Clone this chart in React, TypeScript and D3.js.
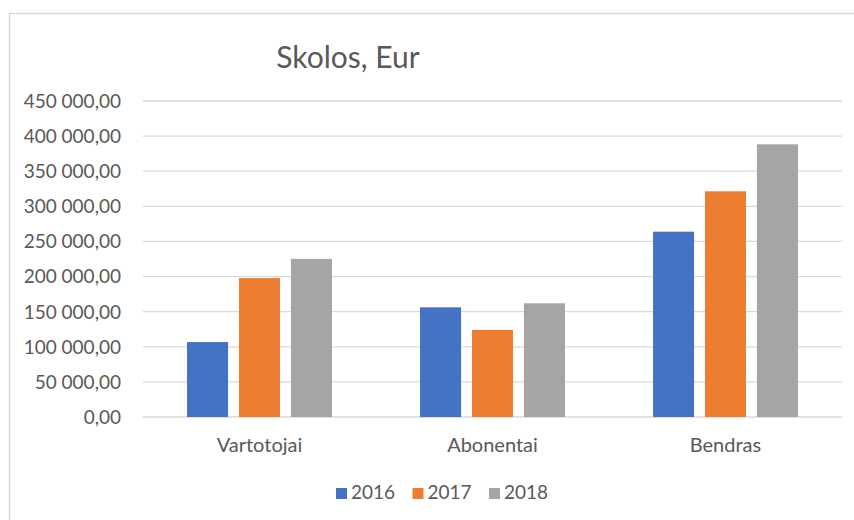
import React, { useEffect } from "react";
import * as d3 from "d3";

const categories = ["Vartotojai", "Abonentai", "Bendras"];
const seriesNames = ["2016", "2017", "2018"];
const values2016 = [106700, 156200, 263900];
const values2017 = [197800, 123900, 321400];
const values2018 = [225200, 161900, 388300];
const yTicks = [0, 50000, 100000, 150000, 200000, 250000, 300000, 350000, 400000, 450000];
const colors = ["#4472C4", "#ED7D31", "#A5A5A5"];
const title = "Skolos, Eur";

const W = 854;
const H = 520;
const FONT = "Lato, 'Open Sans', sans-serif";
const TEXT = "#595959";

const locale = d3.formatLocale({ decimal: ",", thousands: " ", grouping: [3], currency: ["", ""] });
const fmt = locale.format(",.2f");

export default function App() {
  useEffect(() => {
    document.body.style.margin = "0";
  }, []);

  const series = [values2016, values2017, values2018];
  const plotL = 143, plotR = 842, plotT = 101, plotB = 417;

  const y = d3.scaleLinear().domain([0, 450000]).range([plotB, plotT]);
  const x0 = d3.scaleBand<string>().domain(categories).range([plotL, plotR]).paddingInner(0.378).paddingOuter(0.189);
  const x1 = d3.scaleBand<string>().domain(seriesNames).range([0, x0.bandwidth()]).paddingInner(0.21).paddingOuter(0);
  const legendX = d3.scalePoint<string>().domain(seriesNames).range([336, 489]);

  return (
    <svg width={W} height={H} style={{ display: "block", background: "#fff" }} fontFamily={FONT}>
      <rect x={9.5} y={13.5} width={W} height={H} fill="#fff" stroke="#d9d9d9" strokeWidth={1.5} />
      <text x={348} y={68} textAnchor="middle" fontSize={30} fill={TEXT}>{title}</text>
      {yTicks.map((t) => (
        <g key={t}>
          <line x1={plotL} x2={plotR} y1={y(t)} y2={y(t)} stroke="#d9d9d9" strokeWidth={1.3} />
          <text x={121} y={y(t)} dy="0.36em" textAnchor="end" fontSize={19} fill={TEXT}>{fmt(t)}</text>
        </g>
      ))}
      {categories.map((c, ci) => (
        <g key={c} transform={`translate(${x0(c)},0)`}>
          {seriesNames.map((s, si) => (
            <rect key={s} x={x1(s)} y={y(series[si][ci])} width={x1.bandwidth()} height={y(0) - y(series[si][ci])} fill={colors[si]} />
          ))}
        </g>
      ))}
      {categories.map((c) => (
        <text key={c} x={(x0(c) as number) + x0.bandwidth() / 2} y={452} textAnchor="middle" fontSize={20} fill={TEXT}>{c}</text>
      ))}
      {seriesNames.map((s, si) => (
        <g key={s} transform={`translate(${legendX(s)},0)`}>
          <rect x={0} y={488} width={11} height={11} fill={colors[si]} />
          <text x={15} y={499} fontSize={19} fill={TEXT}>{s}</text>
        </g>
      ))}
    </svg>
  );
}
